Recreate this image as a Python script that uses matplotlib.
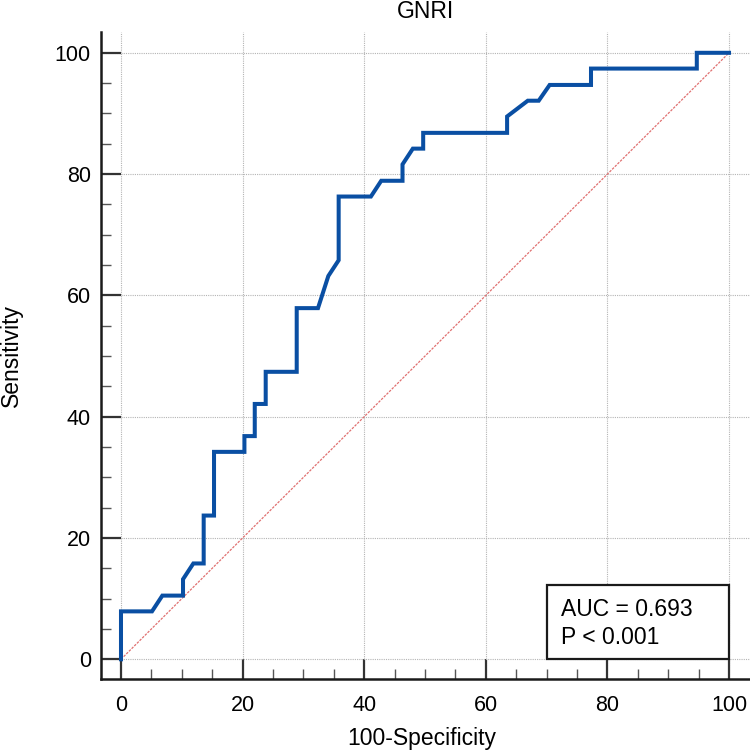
import matplotlib
matplotlib.use("Agg")
import matplotlib.pyplot as plt
from matplotlib.ticker import MultipleLocator
from matplotlib.patches import Rectangle

# ROC curve vertices (100-Specificity, Sensitivity)
fpr = [0, 0, 5.1, 6.8, 10.2, 10.2, 11.9, 13.6, 13.6, 15.3, 15.3, 20.3, 20.3,
       22.0, 22.0, 23.8, 23.8, 28.9, 28.9, 32.4, 34.1, 35.8, 35.8, 41.1, 42.8,
       46.3, 46.3, 48.0, 49.7, 49.7, 63.5, 63.5, 66.9, 68.7, 70.5, 77.3, 77.3,
       94.7, 94.7, 100]
sens = [0, 7.9, 7.9, 10.5, 10.5, 13.2, 15.8, 15.8, 23.7, 23.7, 34.2, 34.2, 36.8,
        36.8, 42.1, 42.1, 47.4, 47.4, 57.9, 57.9, 63.2, 65.8, 76.3, 76.3, 78.9,
        78.9, 81.6, 84.2, 84.2, 86.8, 86.8, 89.5, 92.1, 92.1, 94.7, 94.7, 97.4,
        97.4, 100, 100]
ref_line = [0, 100]
ticks = [0, 20, 40, 60, 80, 100]
title = "GNRI"
xlabel = "100-Specificity"
ylabel = "Sensitivity"
box_lines = ["AUC = 0.693", "P < 0.001"]

plt.rcParams['font.family'] = ['Liberation Sans', 'DejaVu Sans']

W, H = 750, 752
fig = plt.figure(figsize=(W / 100, H / 100), dpi=100)
ax = fig.add_axes([100.5 / W, 1 - 679.3 / H, (750 - 100.5) / W, (679.3 - 32) / H])

ax.set_xlim(-3.37, 103.45)
ax.set_ylim(-3.30, 103.43)

ax.set_xticks(ticks)
ax.set_yticks(ticks)
ax.set_xticks([v for v in range(5, 100, 5) if v % 20], minor=True)
ax.set_yticks([v for v in range(5, 100, 5) if v % 20], minor=True)

ax.grid(True, which='major', color='#b4b4b4', linestyle=(0, (1, 1)), linewidth=0.8)
ax.set_axisbelow(True)

for s in ['top', 'right']:
    ax.spines[s].set_visible(False)
for s in ['left', 'bottom']:
    ax.spines[s].set_linewidth(1.8)
    ax.spines[s].set_color('#1a1a1a')

ax.tick_params(which='major', direction='in', length=14.6, width=1.6, color='#333333',
               labelsize=15.5, pad=7)
ax.tick_params(which='minor', direction='in', length=7, width=1.0, color='#555555')
ax.tick_params(axis='x', which='major', pad=11)

ax.plot(ref_line, ref_line, color='#e07070', linewidth=0.9, linestyle=(0, (2, 1)), zorder=2)
ax.plot(fpr, sens, color='#0a4fa3', linewidth=2.9, solid_joinstyle='miter', zorder=3,
        clip_on=False)

ax.add_patch(Rectangle((70.0, 0), 30.0, 12.25, facecolor='white', edgecolor='#1a1a1a',
                       linewidth=1.6, zorder=4))
ax.text(72.4, 7.2, box_lines[0], fontsize=16.5, va='baseline', ha='left', zorder=5)
ax.text(72.4, 2.5, box_lines[1], fontsize=16.5, va='baseline', ha='left', zorder=5)

ax.set_title(title, fontsize=16.5, pad=10)
fig.text(422 / W, 1 - 745 / H, xlabel, fontsize=16.5, ha='center', va='baseline')
fig.text(11.5 / W, 1 - 356 / H, ylabel, fontsize=16.5, ha='center', va='center', rotation=90)

fig.savefig('out.png', dpi=100)
